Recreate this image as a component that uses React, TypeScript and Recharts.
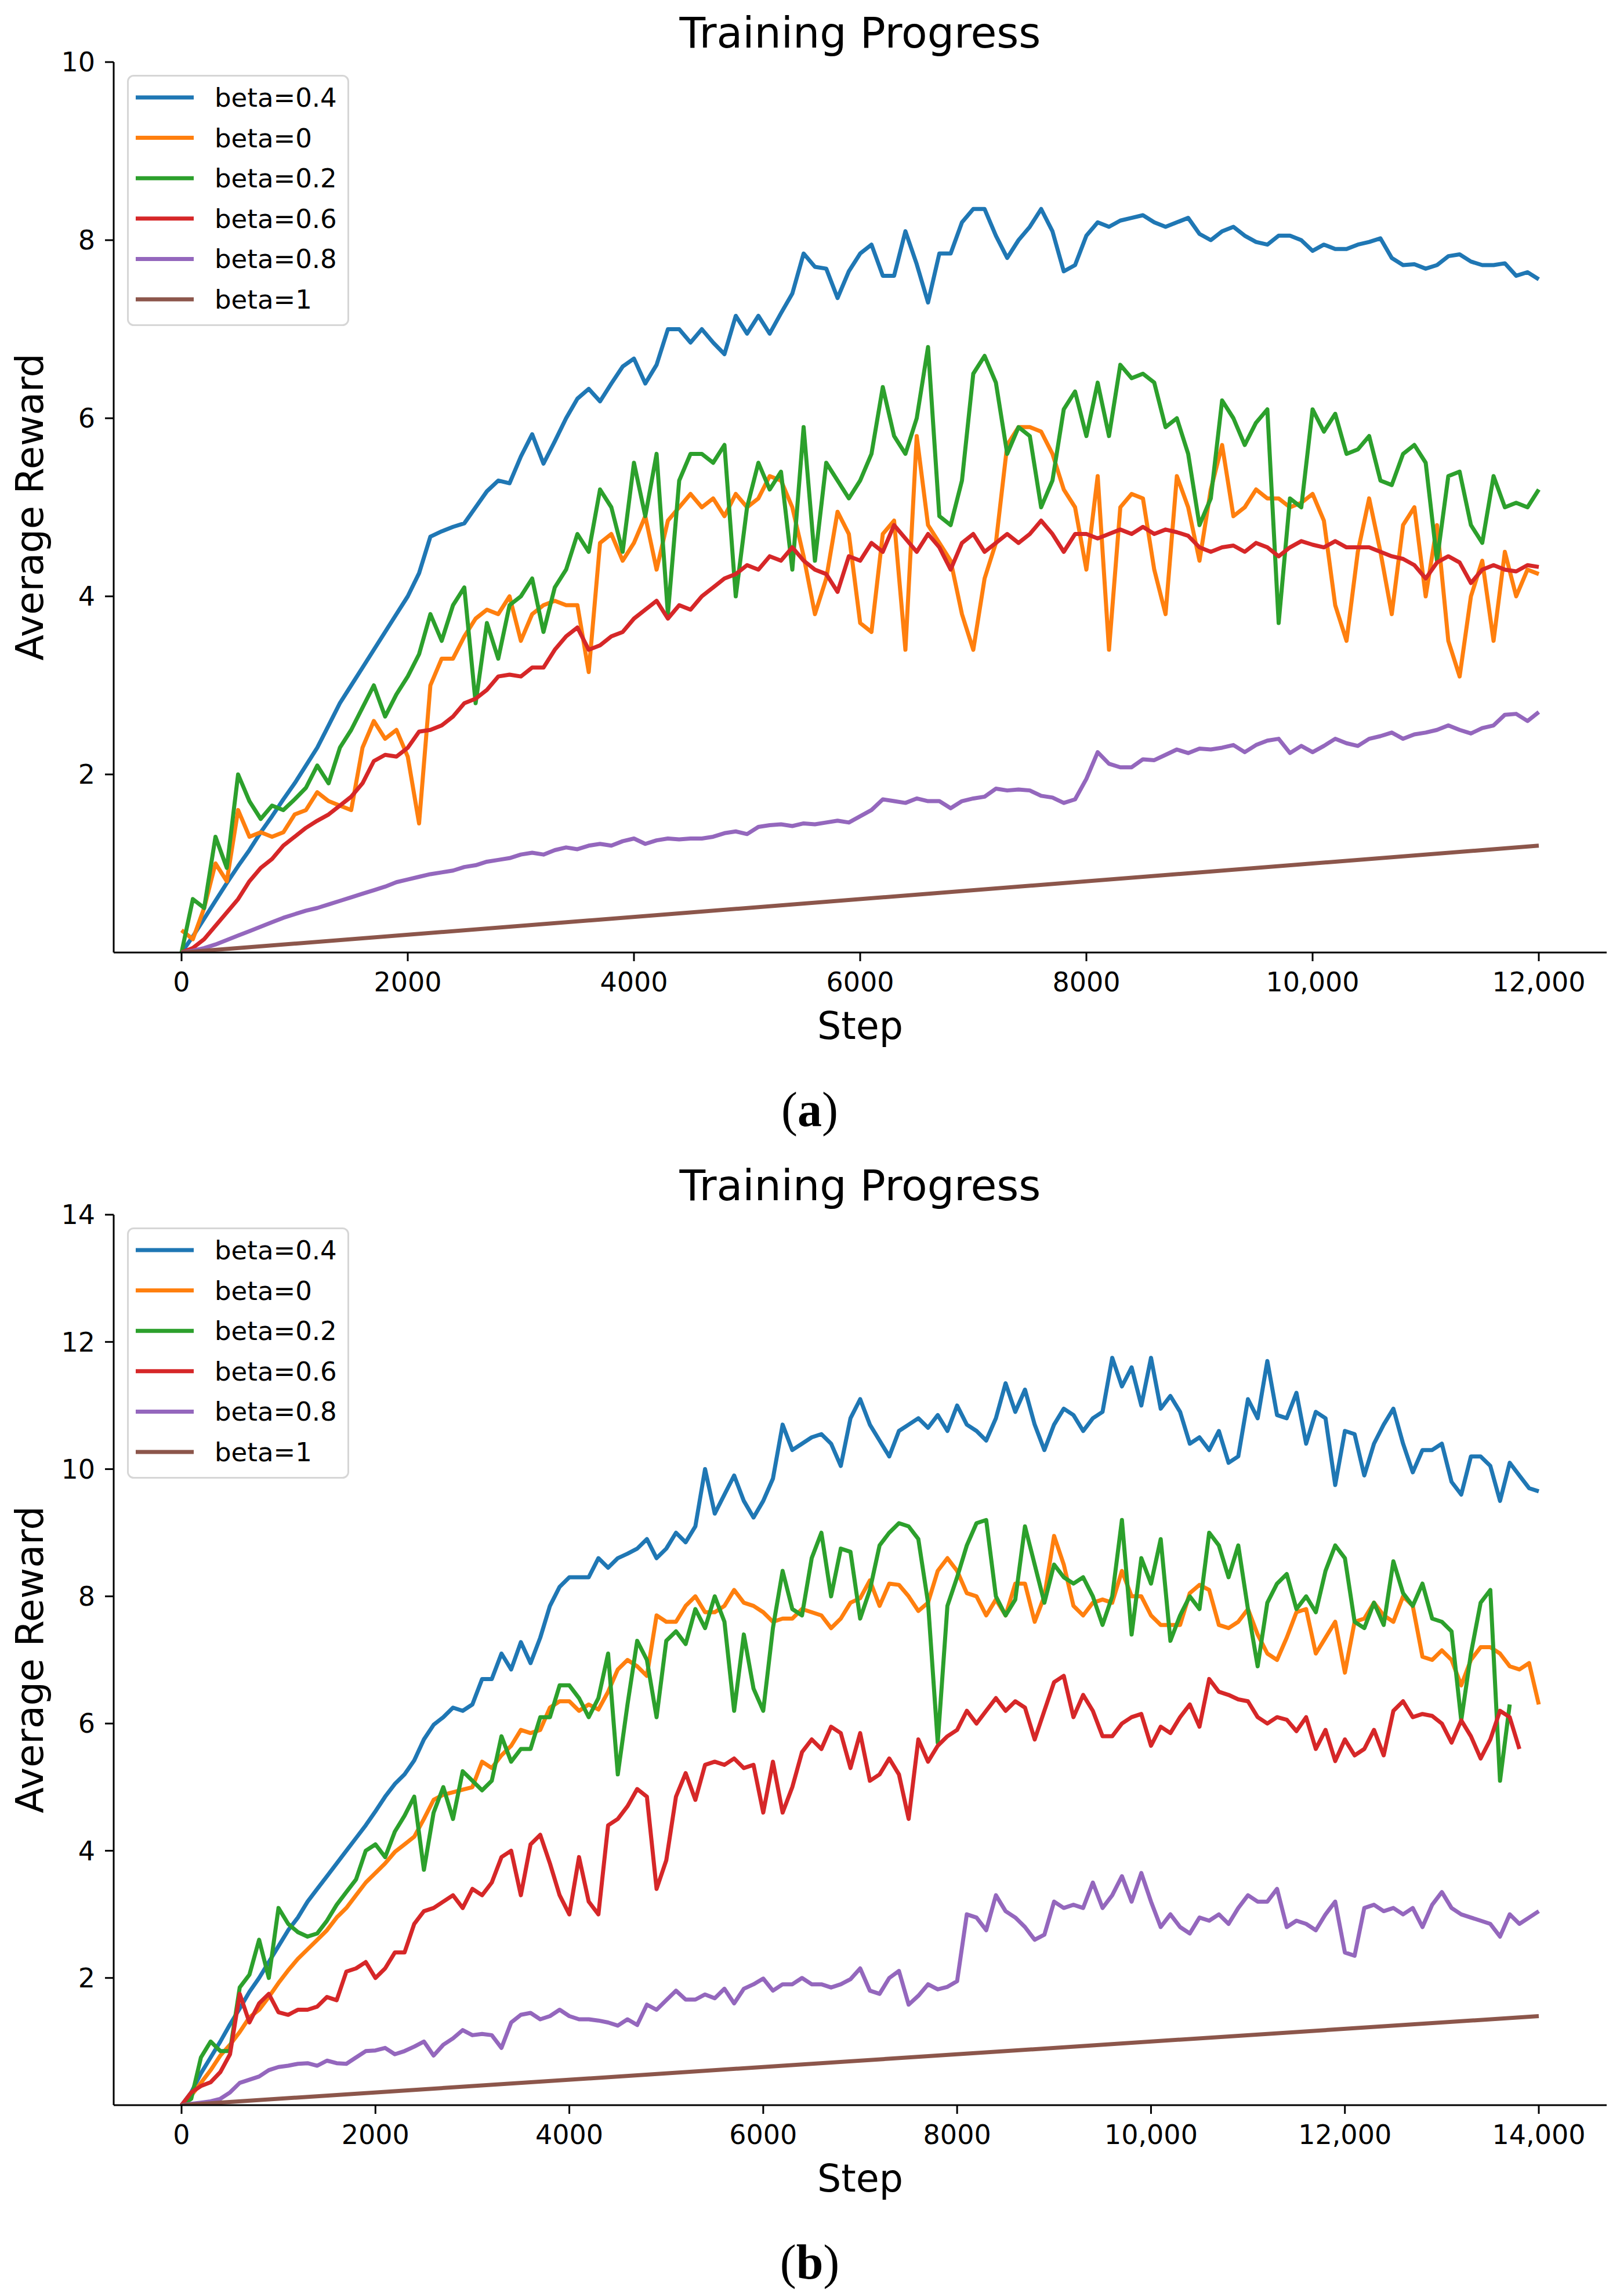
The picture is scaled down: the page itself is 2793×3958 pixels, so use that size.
import React from 'react';
import { LineChart, Line, XAxis, YAxis, Legend } from 'recharts';

const FONT = '"DejaVu Sans", Verdana, sans-serif';
const SERIF = '"Liberation Serif", "Times New Roman", serif';
const PAGE_W = 2793;
const PAGE_H = 3958;
const PANEL_H = 1987;

const seriesNames = ['beta=0.4', 'beta=0', 'beta=0.2', 'beta=0.6', 'beta=0.8', 'beta=1'];
const seriesColors = ['#1f77b4', '#ff7f0e', '#2ca02c', '#d62728', '#9467bd', '#8c564b'];

// ---------- panel (a): steps 0..12000, one reading every 100 steps ----------
const stepsA = Array.from({ length: 121 }, (_, i) => i * 100);

const blueA = [
  0, 0.18, 0.38, 0.58, 0.78, 0.97, 1.15, 1.35, 1.53, 1.72,
  1.9, 2.1, 2.3, 2.55, 2.8, 3.0, 3.2, 3.4, 3.6, 3.8,
  4.0, 4.26, 4.67, 4.73, 4.78, 4.82, 5.0, 5.18, 5.3, 5.27,
  5.57, 5.82, 5.49, 5.74, 6.0, 6.22, 6.33, 6.19, 6.39, 6.58,
  6.67, 6.39, 6.6, 7.0, 7.0, 6.85, 7.0, 6.85, 6.72, 7.15,
  6.95, 7.15, 6.95, 7.18, 7.4, 7.85, 7.7, 7.68, 7.35, 7.65,
  7.85, 7.95, 7.6, 7.6, 8.1, 7.73, 7.3, 7.85, 7.85, 8.2,
  8.35, 8.35, 8.05, 7.8, 8.0, 8.15, 8.35, 8.1, 7.65, 7.72,
  8.05, 8.2, 8.15, 8.22, 8.25, 8.28, 8.2, 8.15, 8.2, 8.25,
  8.07, 8.0, 8.1, 8.15, 8.05, 7.98, 7.95, 8.05, 8.05, 8.0,
  7.88, 7.95, 7.9, 7.9, 7.95, 7.98, 8.02, 7.8, 7.72, 7.73,
  7.68, 7.72, 7.82, 7.84, 7.76, 7.72, 7.72, 7.74, 7.6, 7.64,
  7.56,
];

const orangeA = [
  0.25, 0.15, 0.5, 1.0, 0.8, 1.6, 1.3, 1.35, 1.3, 1.35,
  1.55, 1.6, 1.8, 1.7, 1.65, 1.6, 2.3, 2.6, 2.4, 2.5,
  2.2, 1.45, 3.0, 3.3, 3.3, 3.55, 3.75, 3.85, 3.8, 4.0,
  3.5, 3.8, 3.9, 3.95, 3.9, 3.9, 3.15, 4.6, 4.7, 4.4,
  4.6, 4.9, 4.3, 4.85, 5.0, 5.15, 5.0, 5.1, 4.9, 5.15,
  5.0, 5.1, 5.35, 5.3, 5.0, 4.45, 3.8, 4.2, 4.95, 4.7,
  3.7, 3.6, 4.7, 4.85, 3.4, 5.8, 4.8, 4.6, 4.4, 3.8,
  3.4, 4.2, 4.6, 5.7, 5.9, 5.9, 5.85, 5.6, 5.2, 5.0,
  4.3, 5.35, 3.4, 5.0, 5.15, 5.1, 4.3, 3.8, 5.35, 5.0,
  4.4, 5.2, 5.7, 4.9, 5.0, 5.2, 5.1, 5.1, 5.0, 5.05,
  5.15, 4.85, 3.9, 3.5, 4.5, 5.1, 4.5, 3.8, 4.8, 5.0,
  4.0, 4.8, 3.5, 3.1, 4.0, 4.4, 3.5, 4.5, 4.0, 4.3,
  4.25,
];

const greenA = [
  0, 0.6, 0.5, 1.3, 0.95, 2.0, 1.7, 1.5, 1.65, 1.6,
  1.72, 1.85, 2.1, 1.9, 2.3, 2.5, 2.75, 3.0, 2.65, 2.9,
  3.1, 3.35, 3.8, 3.5, 3.9, 4.1, 2.8, 3.7, 3.3, 3.9,
  4.0, 4.2, 3.6, 4.1, 4.3, 4.7, 4.5, 5.2, 5.0, 4.5,
  5.5, 4.9, 5.6, 3.8, 5.3, 5.6, 5.6, 5.5, 5.7, 4.0,
  5.0, 5.5, 5.2, 5.4, 4.3, 5.9, 4.4, 5.5, 5.3, 5.1,
  5.3, 5.6, 6.35, 5.8, 5.6, 6.0, 6.8, 4.9, 4.8, 5.3,
  6.5, 6.7, 6.4, 5.6, 5.9, 5.8, 5.0, 5.3, 6.1, 6.3,
  5.8, 6.4, 5.8, 6.6, 6.45, 6.5, 6.4, 5.9, 6.0, 5.6,
  4.8, 5.1, 6.2, 6.0, 5.7, 5.95, 6.1, 3.7, 5.1, 5.0,
  6.1, 5.85, 6.05, 5.6, 5.65, 5.8, 5.3, 5.25, 5.6, 5.7,
  5.5, 4.4, 5.35, 5.4, 4.8, 4.6, 5.35, 5.0, 5.05, 5.0,
  5.2,
];

const redA = [
  0, 0.05, 0.15, 0.3, 0.45, 0.6, 0.8, 0.95, 1.05, 1.2,
  1.3, 1.4, 1.48, 1.55, 1.65, 1.75, 1.9, 2.15, 2.22, 2.2,
  2.3, 2.48, 2.5, 2.55, 2.65, 2.8, 2.85, 2.95, 3.1, 3.12,
  3.1, 3.2, 3.2, 3.4, 3.55, 3.65, 3.4, 3.45, 3.55, 3.6,
  3.75, 3.85, 3.95, 3.75, 3.9, 3.85, 4.0, 4.1, 4.2, 4.25,
  4.35, 4.3, 4.45, 4.4, 4.55, 4.4, 4.3, 4.25, 4.05, 4.45,
  4.4, 4.6, 4.5, 4.8, 4.65, 4.5, 4.7, 4.55, 4.3, 4.6,
  4.7, 4.5, 4.6, 4.7, 4.6, 4.7, 4.85, 4.7, 4.5, 4.7,
  4.7, 4.65, 4.7, 4.75, 4.7, 4.78, 4.7, 4.75, 4.72, 4.68,
  4.55, 4.5, 4.55, 4.57, 4.5, 4.6, 4.55, 4.45, 4.55, 4.62,
  4.58, 4.55, 4.62, 4.55, 4.55, 4.55, 4.5, 4.45, 4.42, 4.35,
  4.2, 4.38, 4.45, 4.38, 4.15, 4.3, 4.35, 4.3, 4.28, 4.35,
  4.33,
];

const purpleA = [
  0, 0.02, 0.05, 0.09, 0.14, 0.19, 0.24, 0.29, 0.34, 0.39,
  0.43, 0.47, 0.5, 0.54, 0.58, 0.62, 0.66, 0.7, 0.74, 0.79,
  0.82, 0.85, 0.88, 0.9, 0.92, 0.96, 0.98, 1.02, 1.04, 1.06,
  1.1, 1.12, 1.1, 1.15, 1.18, 1.16, 1.2, 1.22, 1.2, 1.25,
  1.28, 1.22, 1.26, 1.28, 1.27, 1.28, 1.28, 1.3, 1.34, 1.36,
  1.33, 1.41, 1.43, 1.44, 1.42, 1.45, 1.44, 1.46, 1.48, 1.46,
  1.53, 1.6, 1.72, 1.7, 1.68, 1.73, 1.7, 1.7, 1.62, 1.7,
  1.73, 1.75, 1.84, 1.82, 1.83, 1.82, 1.76, 1.74, 1.68, 1.72,
  1.95, 2.25, 2.12, 2.08, 2.08, 2.17, 2.16, 2.22, 2.28, 2.24,
  2.29, 2.28, 2.3, 2.33, 2.25, 2.33, 2.38, 2.4, 2.24, 2.32,
  2.25, 2.32, 2.4, 2.35, 2.32, 2.4, 2.43, 2.47, 2.4, 2.45,
  2.47, 2.5, 2.55, 2.5, 2.46, 2.52, 2.55, 2.67, 2.68, 2.6,
  2.7,
];

const brownStepsA = [0, 12000];
const brownA = [0, 1.2];

const xTicksA = [0, 2000, 4000, 6000, 8000, 10000, 12000];
const yTicksA = [2, 4, 6, 8, 10];

// ---------- panel (b): steps 0..14000, one reading every 100 steps ----------
const stepsB = Array.from({ length: 141 }, (_, i) => i * 100);

const blueB = [
  0, 0.2, 0.5, 0.75, 1.0, 1.27, 1.52, 1.78, 2.0, 2.25,
  2.5, 2.75, 2.95, 3.2, 3.4, 3.6, 3.8, 4.0, 4.2, 4.4,
  4.62, 4.85, 5.05, 5.2, 5.42, 5.75, 5.98, 6.1, 6.25, 6.2,
  6.3, 6.7, 6.7, 7.1, 6.85, 7.28, 6.95, 7.35, 7.85, 8.15,
  8.3, 8.3, 8.3, 8.6, 8.45, 8.6, 8.67, 8.75, 8.9, 8.6,
  8.75, 9.0, 8.85, 9.1, 10.0, 9.3, 9.6, 9.9, 9.5, 9.24,
  9.5, 9.85, 10.7, 10.3, 10.4, 10.5, 10.55, 10.4, 10.05, 10.8,
  11.1, 10.7, 10.45, 10.2, 10.6, 10.7, 10.8, 10.65, 10.85, 10.6,
  11.0, 10.7, 10.6, 10.45, 10.8, 11.35, 10.9, 11.25, 10.7, 10.3,
  10.7, 10.95, 10.85, 10.6, 10.8, 10.9, 11.75, 11.3, 11.6, 11.0,
  11.75, 10.95, 11.15, 10.9, 10.4, 10.5, 10.3, 10.6, 10.1, 10.2,
  11.1, 10.8, 11.7, 10.85, 10.8, 11.2, 10.4, 10.9, 10.8, 9.75,
  10.6, 10.55, 9.9, 10.4, 10.7, 10.95, 10.4, 9.95, 10.3, 10.3,
  10.4, 9.8, 9.6, 10.2, 10.2, 10.05, 9.5, 10.1, 9.9, 9.7,
  9.65,
];

const orangeB = [
  0, 0.15, 0.35, 0.55, 0.78, 0.95, 1.15, 1.38, 1.5, 1.7,
  1.92, 2.12, 2.3, 2.45, 2.6, 2.75, 2.95, 3.1, 3.3, 3.5,
  3.65, 3.8, 3.98, 4.1, 4.22, 4.5, 4.8, 4.88, 4.92, 4.96,
  5.0, 5.4, 5.3, 5.5, 5.65, 5.9, 5.85, 5.9, 6.25, 6.35,
  6.35, 6.2, 6.3, 6.22, 6.5, 6.85, 7.0, 6.9, 6.75, 7.7,
  7.6, 7.6, 7.85, 8.0, 7.75, 7.75, 7.85, 8.1, 7.9, 7.85,
  7.75, 7.6, 7.65, 7.65, 7.8, 7.75, 7.7, 7.5, 7.65, 7.9,
  7.97, 8.25, 7.85, 8.2, 8.18, 8.0, 7.77, 7.9, 8.4, 8.6,
  8.4, 8.05, 8.0, 7.7, 7.95, 7.7, 8.2, 8.2, 7.6, 8.0,
  8.95, 8.5, 7.85, 7.7, 7.9, 7.95, 7.9, 8.4, 8.0, 8.0,
  7.7, 7.55, 7.55, 7.55, 8.05, 8.18, 8.1, 7.55, 7.5, 7.6,
  7.8, 7.4, 7.1, 7.0, 7.35, 7.75, 7.8, 7.1, 7.35, 7.6,
  6.8, 7.6, 7.65, 7.9, 7.7, 7.6, 8.0, 7.85, 7.05, 7.0,
  7.15, 7.0, 6.6, 7.0, 7.2, 7.2, 7.1, 6.9, 6.85, 6.95,
  6.3,
];

// green and red stop a little before 14,000
const greenB = [
  0, 0.1, 0.75, 1.0, 0.85, 0.85, 1.85, 2.05, 2.6, 2.0,
  3.1, 2.85, 2.72, 2.65, 2.7, 2.9, 3.15, 3.35, 3.55, 4.0,
  4.1, 3.9, 4.3, 4.55, 4.85, 3.7, 4.6, 5.0, 4.5, 5.25,
  5.1, 4.95, 5.1, 5.8, 5.4, 5.6, 5.6, 6.1, 6.1, 6.6,
  6.6, 6.4, 6.1, 6.4, 7.1, 5.2, 6.3, 7.3, 7.0, 6.1,
  7.3, 7.45, 7.25, 7.8, 7.5, 8.0, 7.6, 6.2, 7.4, 6.55,
  6.2, 7.5, 8.4, 7.8, 7.7, 8.6, 9.0, 8.0, 8.75, 8.7,
  7.65, 8.1, 8.8, 9.0, 9.15, 9.1, 8.9, 7.9, 5.7, 7.85,
  8.3, 8.8, 9.15, 9.2, 8.0, 7.7, 7.95, 9.1, 8.5, 7.9,
  8.5, 8.3, 8.2, 8.3, 8.0, 7.55, 8.0, 9.2, 7.4, 8.6,
  8.2, 8.9, 7.3, 7.7, 8.0, 7.8, 9.0, 8.8, 8.3, 8.8,
  7.8, 6.9, 7.9, 8.2, 8.35, 7.8, 8.0, 7.75, 8.4, 8.8,
  8.6, 7.6, 7.5, 7.9, 7.55, 8.55, 8.05, 7.85, 8.2, 7.65,
  7.6, 7.45, 6.05, 7.1, 7.9, 8.1, 5.1, 6.3,
];

const redB = [
  0, 0.2, 0.3, 0.36, 0.52, 0.8, 1.75, 1.3, 1.6, 1.75,
  1.46, 1.42, 1.5, 1.5, 1.55, 1.7, 1.65, 2.1, 2.15, 2.25,
  2.0, 2.15, 2.4, 2.4, 2.85, 3.05, 3.1, 3.2, 3.3, 3.1,
  3.4, 3.3, 3.5, 3.9, 4.0, 3.3, 4.1, 4.25, 3.8, 3.3,
  3.0, 3.9, 3.2, 3.0, 4.4, 4.5, 4.7, 4.97, 4.85, 3.4,
  3.85, 4.85, 5.22, 4.8, 5.35, 5.4, 5.35, 5.45, 5.3, 5.35,
  4.6, 5.4, 4.6, 5.0, 5.55, 5.75, 5.6, 5.95, 5.85, 5.3,
  5.85, 5.1, 5.2, 5.45, 5.2, 4.5, 5.75, 5.4, 5.65, 5.8,
  5.9, 6.2, 6.0, 6.2, 6.4, 6.2, 6.35, 6.25, 5.75, 6.2,
  6.65, 6.75, 6.1, 6.45, 6.2, 5.8, 5.8, 6.0, 6.1, 6.15,
  5.65, 5.95, 5.85, 6.1, 6.3, 5.95, 6.7, 6.5, 6.45, 6.38,
  6.35, 6.1, 6.0, 6.1, 6.06, 5.88, 6.1, 5.6, 5.9, 5.41,
  5.75, 5.5, 5.6, 5.9, 5.5, 6.2, 6.35, 6.1, 6.15, 6.12,
  6.0, 5.7, 6.05, 5.8, 5.45, 5.75, 6.2, 6.1, 5.6,
];

const purpleB = [
  0, 0.02, 0.04, 0.06, 0.1, 0.2, 0.35, 0.4, 0.45, 0.55,
  0.6, 0.62, 0.65, 0.66, 0.62, 0.7, 0.66, 0.65, 0.75, 0.85,
  0.86, 0.9, 0.8, 0.85, 0.92, 1.0, 0.78, 0.95, 1.05, 1.18,
  1.1, 1.12, 1.1, 0.9, 1.3, 1.42, 1.45, 1.35, 1.4, 1.5,
  1.4, 1.35, 1.35, 1.33, 1.3, 1.25, 1.35, 1.26, 1.58, 1.5,
  1.65, 1.8, 1.66, 1.66, 1.74, 1.68, 1.83, 1.6, 1.83, 1.9,
  1.99, 1.8, 1.9, 1.9, 2.0, 1.9, 1.9, 1.85, 1.9, 1.98,
  2.15, 1.8, 1.75, 2.0, 2.11, 1.58, 1.72, 1.9, 1.82, 1.86,
  1.95, 3.0, 2.95, 2.75, 3.3, 3.05, 2.95, 2.8, 2.6, 2.68,
  3.2, 3.1, 3.15, 3.1, 3.5, 3.1, 3.3, 3.6, 3.2, 3.65,
  3.2, 2.8, 3.0, 2.8, 2.7, 2.95, 2.9, 3.0, 2.85, 3.1,
  3.3, 3.2, 3.2, 3.4, 2.8, 2.9, 2.85, 2.75, 3.0, 3.2,
  2.4, 2.35, 3.1, 3.15, 3.05, 3.1, 3.0, 3.1, 2.8, 3.15,
  3.35, 3.1, 3.0, 2.95, 2.9, 2.85, 2.65, 3.0, 2.85, 2.95,
  3.05,
];

const brownStepsB = [0, 14000];
const brownB = [0, 1.4];

const xTicksB = [0, 2000, 4000, 6000, 8000, 10000, 12000, 14000];
const yTicksB = [2, 4, 6, 8, 10, 12, 14];

type SeriesDef = { name: string; color: string; steps: number[]; values: number[] };

const makeSeries = (steps: number[], lists: number[][], brownSteps: number[]): SeriesDef[] =>
  lists.map((values, i) => ({
    name: seriesNames[i],
    color: seriesColors[i],
    steps: i === 5 ? brownSteps : steps,
    values,
  }));

const seriesA = makeSeries(stepsA, [blueA, orangeA, greenA, redA, purpleA, brownA], brownStepsA);
const seriesB = makeSeries(stepsB, [blueB, orangeB, greenB, redB, purpleB, brownB], brownStepsB);

const stepFormat = (v: number) => (v >= 10000 ? v.toLocaleString('en-US') : String(v));

const axisLine = { stroke: '#000', strokeWidth: 3 };
const tickStyle = { fill: '#000', fontSize: 46, fontFamily: FONT };

const LegendBox = () => (
  <svg width={384} height={434} style={{ display: 'block' }}>
    <rect x={1.5} y={1.5} width={380} height={430} rx={10} fill="#fff" stroke="#d6d6d6" strokeWidth={3} />
    {seriesNames.map((name, i) => {
      const cy = 39 + i * 69.6;
      return (
        <g key={name}>
          <line x1={15} x2={115} y1={cy} y2={cy} stroke={seriesColors[i]} strokeWidth={7} />
          <text x={151} y={cy + 16} fontSize={45} fontFamily={FONT} fill="#000">
            {name}
          </text>
        </g>
      );
    })}
  </svg>
);

interface PanelProps {
  top: number;
  series: SeriesDef[];
  xDomain: [number, number];
  xTicks: number[];
  yDomain: [number, number];
  yTicks: number[];
  caption: string;
}

const Panel = ({ top, series, xDomain, xTicks, yDomain, yTicks, caption }: PanelProps) => (
  <div style={{ position: 'absolute', left: 0, top, width: PAGE_W, height: PANEL_H }}>
    <LineChart width={PAGE_W} height={1760} margin={{ top: 107, right: 23, bottom: 0, left: 0 }}>
      <XAxis
        type="number"
        dataKey="step"
        domain={xDomain}
        ticks={xTicks}
        interval={0}
        allowDataOverflow
        height={118}
        tickFormatter={stepFormat}
        tick={tickStyle}
        tickSize={15}
        tickMargin={19}
        axisLine={axisLine}
        tickLine={axisLine}
      />
      <YAxis
        type="number"
        domain={yDomain}
        ticks={yTicks}
        interval={0}
        allowDataOverflow
        width={196}
        tick={tickStyle}
        tickSize={15}
        tickMargin={17}
        axisLine={axisLine}
        tickLine={axisLine}
      />
      {series.map((s) => (
        <Line
          key={s.name}
          name={s.name}
          data={s.values.map((v, i) => ({ step: s.steps[i], value: v }))}
          dataKey="value"
          type="linear"
          stroke={s.color}
          strokeWidth={7}
          strokeLinejoin="round"
          dot={false}
          activeDot={false}
          isAnimationActive={false}
        />
      ))}
      <Legend
        layout="vertical"
        align="center"
        verticalAlign="middle"
        content={() => <LegendBox />}
        wrapperStyle={{ position: 'absolute', left: 219, top: 129, width: 384, height: 434 }}
      />
    </LineChart>
    <svg
      width={PAGE_W}
      height={PANEL_H}
      style={{ position: 'absolute', left: 0, top: 0, pointerEvents: 'none' }}
    >
      <text x={1483} y={82} textAnchor="middle" fontSize={73} fontFamily={FONT} fill="#000">
        Training Progress
      </text>
      <text
        transform="translate(74, 874) rotate(-90)"
        textAnchor="middle"
        fontSize={65}
        fontFamily={FONT}
        fill="#000"
      >
        Average Reward
      </text>
      <text x={1483} y={1791} textAnchor="middle" fontSize={65} fontFamily={FONT} fill="#000">
        Step
      </text>
      <text x={1396} y={1941} textAnchor="middle" fontSize={84} fontFamily={SERIF} fill="#000">
        (<tspan fontWeight="bold">{caption}</tspan>)
      </text>
    </svg>
  </div>
);

export default function App() {
  return (
    <div
      style={{
        position: 'absolute',
        left: 0,
        top: 0,
        width: PAGE_W,
        height: PAGE_H,
        background: '#fff',
        overflow: 'hidden',
      }}
    >
      <Panel
        top={0}
        series={seriesA}
        xDomain={[-600, 12600]}
        xTicks={xTicksA}
        yDomain={[0, 10]}
        yTicks={yTicksA}
        caption="a"
      />
      <Panel
        top={PANEL_H}
        series={seriesB}
        xDomain={[-700, 14700]}
        xTicks={xTicksB}
        yDomain={[0, 14]}
        yTicks={yTicksB}
        caption="b"
      />
    </div>
  );
}
